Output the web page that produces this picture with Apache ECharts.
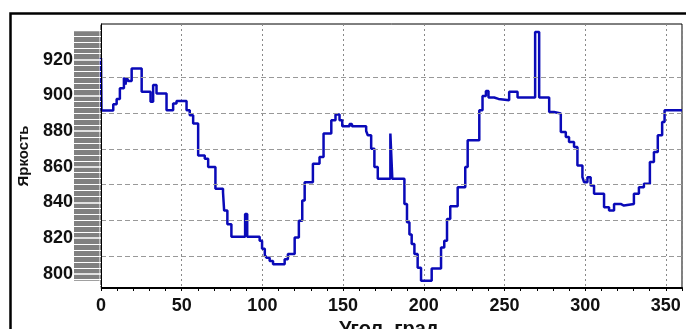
<!DOCTYPE html>
<html>
<head>
    <meta charset="utf-8">
    <title>Яркость</title>
    <script src="https://cdn.jsdelivr.net/npm/echarts@6/dist/echarts.min.js"></script>
    <style>
        body { margin: 0; background: #fff; }
    </style>
</head>
<body>
<div id="main" style="width: 686px; height: 329px;"></div>
<script type="text/javascript">
// угол (град.) - начало каждой ступеньки
var angle = [0, 0.3, 7.6, 9.7, 11.7, 14.2, 15.2, 15.9, 17.0, 19.0, 25.2, 30.7, 32.3, 34.4, 40.6, 44.7, 46.8,
    53.0, 55.0, 57.1, 60.2, 64.3, 66.4, 70.9, 75.6, 76.3, 78.3, 80.8, 89.3, 90.6, 98.3, 99.8, 101.5, 102.5,
    104.5, 106.6, 113.8, 115.8, 120.0, 122.6, 124.7, 126.2, 131.3, 135.4, 137.9, 142.7, 145.3, 147.8, 149.5,
    154.0, 155.5, 164.3, 165.3, 167.4, 169.4, 171.5, 179.3, 180.5, 188.0, 189.6, 191.1, 192.5, 194.2, 196.2,
    198.3, 204.9, 210.7, 212.7, 214.4, 216.4, 221.0, 225.7, 227.2, 234.4, 236.4, 238.5, 240.1, 243.6, 246.3,
    252.9, 258.1, 269.0, 271.5, 277.7, 280.7, 284.9, 288.0, 290.0, 293.1, 295.2, 298.3, 299.3, 301.4, 303.4,
    305.5, 311.7, 314.8, 317.9, 322.0, 324.0, 330.2, 333.3, 336.4, 340.1, 342.6, 345.0, 347.7, 349.2, 360];
// яркость
var brightness = [921, 891.5, 895, 898, 904, 910, 906, 910, 908, 915, 902, 896.4, 905.8, 901, 891.7, 895.5, 896.9,
    891.7, 888.9, 884.2, 866.3, 864.5, 859.8, 847.6, 845.7, 835.4, 827.8, 820.7, 833.5, 820.7, 818.5, 814, 810.5, 809,
    807.2, 805.3, 808.1, 811, 820.3, 829.7, 841, 851.3, 861.7, 865.4, 878.6, 886, 889.3, 886, 882.7,
    884, 882.7, 880, 877.6, 870.1, 859.8, 853.2, 878.6, 853.2, 839.1, 828.8, 822, 816.6, 811, 803.4,
    796, 803, 814.7, 818.5, 830.7, 837.8, 848.5, 859.8, 874.8, 891.7, 899.6, 902.4, 898.8, 898, 897.3,
    902, 898.8, 935.5, 898.8, 890.7, 889.8, 879.5, 876.6, 873.8, 871, 860.7, 854.1, 851.3, 854.1, 849.4,
    844.8, 837.2, 835.4, 839.1, 838.2, 839.1, 844.8, 848.5, 850.4, 862.6, 868.2, 877.6, 885.1, 891.7, 891.7];
// горизонтальная сетка
var gridValues = [810, 830, 850, 870, 890, 910];

var chart = echarts.init(document.getElementById('main'));
var font = '"Liberation Sans", Arial, sans-serif';

var option = {
    animation: false,
    backgroundColor: '#fff',
    grid: {
        left: 101, right: 4, top: 24, bottom: 41,
        outerBoundsMode: 'none',
        containLabel: false,
        show: true, borderColor: '#000', borderWidth: 1, backgroundColor: '#fff'
    },
    xAxis: {
        type: 'value',
        min: 0, max: 360, interval: 50,
        name: 'Угол, град.',
        nameLocation: 'middle',
        nameGap: 31,
        nameTextStyle: { fontFamily: font, fontWeight: 'bold', fontSize: 20, color: '#111', verticalAlign: 'top' },
        axisLine: { show: true, lineStyle: { color: '#000', width: 2 } },
        axisTick: { show: true, length: 3, lineStyle: { color: '#000' } },
        minorTick: { show: true, splitNumber: 5, length: 3, lineStyle: { color: '#000' } },
        axisLabel: {
            fontFamily: font, fontWeight: 'bold', fontSize: 18, color: '#111', margin: 9,
            formatter: function (v) { return v % 50 === 0 ? String(v) : ''; }
        },
        splitLine: { show: true, lineStyle: { color: '#888', type: [2, 3], width: 1 } }
    },
    yAxis: {
        type: 'value',
        min: 792, max: 940,
        splitNumber: 7,
        z: 5,
        name: 'Яркость',
        nameLocation: 'middle',
        nameGap: 70,
        nameTextStyle: { fontFamily: font, fontWeight: 'bold', fontSize: 15, color: '#111' },
        axisLine: { show: true, lineStyle: { color: '#000', width: 1 } },
        axisTick: { show: true, length: 27, lineStyle: { color: '#fff', width: 1.5 } },
        minorTick: { show: true, splitNumber: 6, length: 27, lineStyle: { color: '#fff', width: 1 } },
        axisLabel: { fontFamily: font, fontWeight: 'bold', fontSize: 18, color: '#111', margin: 28,
            showMinLabel: false, showMaxLabel: false },
        splitLine: { show: false }
    },
    series: [
        {
            type: 'line',
            data: [],
            silent: true,
            markLine: {
                silent: true,
                symbol: 'none',
                label: { show: false },
                lineStyle: { color: '#999', type: [5, 3], width: 1 },
                data: gridValues.map(function (v) { return { yAxis: v }; })
            }
        },
        {
            name: 'Яркость',
            type: 'line',
            step: 'end',
            showSymbol: false,
            symbol: 'none',
            lineStyle: { color: '#0a0ab8', width: 2.5 },
            data: angle.map(function (a, i) { return [a, brightness[i]]; })
        }
    ]
};
chart.setOption(option);

// серая шкала слева от оси Y и рамка вокруг
var yTop = chart.convertToPixel({ yAxisIndex: 0 }, 936);
var yBot = chart.convertToPixel({ yAxisIndex: 0 }, 796);
chart.setOption({
    graphic: [
        {
            type: 'rect', z: 1,
            shape: { x: 74, y: yTop, width: 25.5, height: yBot - yTop },
            style: { fill: '#808080' }
        },
        {
            type: 'rect', z: 1,
            shape: { x: 10.5, y: 13.5, width: 800, height: 400 },
            style: { fill: 'none', stroke: '#000', lineWidth: 2.5 }
        }
    ]
});
</script>
</body>
</html>
